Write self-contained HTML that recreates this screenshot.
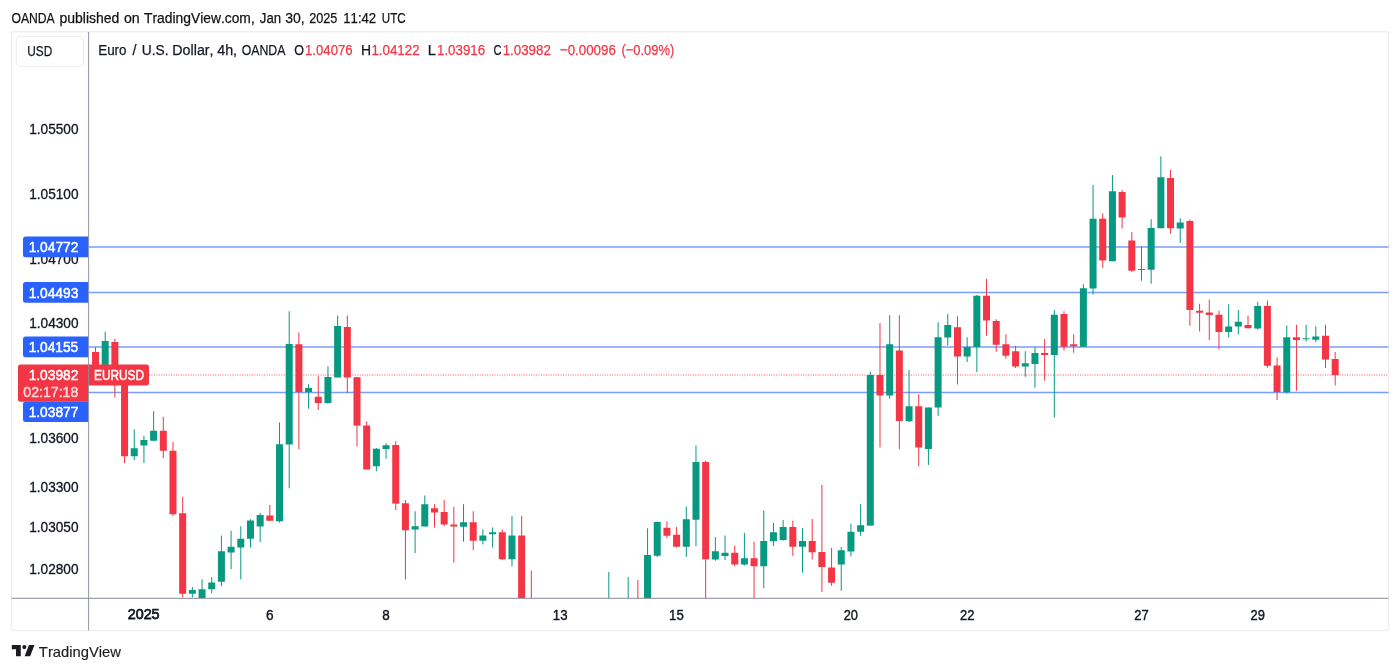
<!DOCTYPE html>
<html lang="en"><head><meta charset="utf-8"><title>EURUSD chart</title>
<style>
html,body{margin:0;padding:0;background:#fff;}
body{width:1400px;height:672px;overflow:hidden;font-family:"Liberation Sans", Arial, sans-serif;}
svg{display:block;}
text{font-family:"Liberation Sans", Arial, sans-serif;font-kerning:none;}
</style></head><body>
<svg width="1400" height="672" viewBox="0 0 1400 672">
<rect width="1400" height="672" fill="#ffffff"/>
<defs><clipPath id="pane"><rect x="89" y="32" width="1299.5" height="566"/></clipPath></defs>

<rect x="11.5" y="31.7" width="1377" height="598.8" fill="none" stroke="#eeeeee" stroke-width="1.4"/>
<text x="29.26" y="134.20" font-size="14.6" fill="#131722" stroke="#131722" stroke-width="0.33" textLength="49.27" lengthAdjust="spacingAndGlyphs">1.05500</text>
<text x="29.26" y="198.90" font-size="14.6" fill="#131722" stroke="#131722" stroke-width="0.33" textLength="49.27" lengthAdjust="spacingAndGlyphs">1.05100</text>
<text x="29.26" y="263.70" font-size="14.6" fill="#131722" stroke="#131722" stroke-width="0.33" textLength="49.27" lengthAdjust="spacingAndGlyphs">1.04700</text>
<text x="29.26" y="328.40" font-size="14.6" fill="#131722" stroke="#131722" stroke-width="0.33" textLength="49.27" lengthAdjust="spacingAndGlyphs">1.04300</text>
<text x="29.26" y="442.80" font-size="14.6" fill="#131722" stroke="#131722" stroke-width="0.33" textLength="49.27" lengthAdjust="spacingAndGlyphs">1.03600</text>
<text x="29.26" y="491.80" font-size="14.6" fill="#131722" stroke="#131722" stroke-width="0.33" textLength="49.27" lengthAdjust="spacingAndGlyphs">1.03300</text>
<text x="29.26" y="532.20" font-size="14.6" fill="#131722" stroke="#131722" stroke-width="0.33" textLength="49.27" lengthAdjust="spacingAndGlyphs">1.03050</text>
<text x="29.26" y="573.60" font-size="14.6" fill="#131722" stroke="#131722" stroke-width="0.33" textLength="49.27" lengthAdjust="spacingAndGlyphs">1.02800</text>
<line x1="88.5" x2="1388.5" y1="247.0" y2="247.0" stroke="#2962ff" stroke-width="1.5" stroke-opacity="0.62"/>
<line x1="88.5" x2="1388.5" y1="292.40000000000003" y2="292.40000000000003" stroke="#2962ff" stroke-width="1.5" stroke-opacity="0.62"/>
<line x1="88.5" x2="1388.5" y1="347.0" y2="347.0" stroke="#2962ff" stroke-width="1.5" stroke-opacity="0.62"/>
<line x1="88.5" x2="1388.5" y1="392.40000000000003" y2="392.40000000000003" stroke="#2962ff" stroke-width="1.5" stroke-opacity="0.62"/>
<line x1="149" x2="1388.5" y1="375" y2="375" stroke="#f23645" stroke-width="1" stroke-dasharray="1 1.45" stroke-opacity="0.85"/>
<g clip-path="url(#pane)">
<rect x="95.00" y="347.30" width="1.0" height="20.70" fill="#f23645"/>
<rect x="92.00" y="352.00" width="7.0" height="16.00" fill="#f23645"/>
<rect x="104.69" y="331.70" width="1.0" height="36.30" fill="#089981"/>
<rect x="101.69" y="341.00" width="7.0" height="27.00" fill="#089981"/>
<rect x="114.37" y="338.75" width="1.0" height="58.85" fill="#f23645"/>
<rect x="111.37" y="342.00" width="7.0" height="36.00" fill="#f23645"/>
<rect x="124.06" y="378.00" width="1.0" height="85.00" fill="#f23645"/>
<rect x="121.06" y="378.00" width="7.0" height="78.25" fill="#f23645"/>
<rect x="133.74" y="429.25" width="1.0" height="30.75" fill="#089981"/>
<rect x="130.74" y="448.25" width="7.0" height="8.00" fill="#089981"/>
<rect x="143.43" y="435.75" width="1.0" height="27.25" fill="#089981"/>
<rect x="140.43" y="440.00" width="7.0" height="5.50" fill="#089981"/>
<rect x="153.11" y="411.25" width="1.0" height="29.50" fill="#089981"/>
<rect x="150.11" y="430.75" width="7.0" height="10.00" fill="#089981"/>
<rect x="162.80" y="416.75" width="1.0" height="41.50" fill="#f23645"/>
<rect x="159.80" y="430.75" width="7.0" height="20.00" fill="#f23645"/>
<rect x="172.48" y="442.00" width="1.0" height="74.25" fill="#f23645"/>
<rect x="169.48" y="450.75" width="7.0" height="63.50" fill="#f23645"/>
<rect x="182.17" y="496.75" width="1.0" height="100.75" fill="#f23645"/>
<rect x="179.17" y="513.25" width="7.0" height="80.50" fill="#f23645"/>
<rect x="191.85" y="587.00" width="1.0" height="10.50" fill="#089981"/>
<rect x="188.85" y="590.00" width="7.0" height="3.75" fill="#089981"/>
<rect x="201.54" y="579.25" width="1.0" height="24.75" fill="#089981"/>
<rect x="198.54" y="589.25" width="7.0" height="14.75" fill="#089981"/>
<rect x="211.22" y="577.00" width="1.0" height="16.25" fill="#089981"/>
<rect x="208.22" y="582.50" width="7.0" height="6.75" fill="#089981"/>
<rect x="220.91" y="535.50" width="1.0" height="50.75" fill="#089981"/>
<rect x="217.91" y="551.25" width="7.0" height="30.50" fill="#089981"/>
<rect x="230.59" y="530.75" width="1.0" height="38.50" fill="#089981"/>
<rect x="227.59" y="546.75" width="7.0" height="5.75" fill="#089981"/>
<rect x="240.28" y="526.25" width="1.0" height="53.00" fill="#089981"/>
<rect x="237.28" y="538.75" width="7.0" height="8.75" fill="#089981"/>
<rect x="249.96" y="519.25" width="1.0" height="28.25" fill="#089981"/>
<rect x="246.96" y="520.50" width="7.0" height="18.25" fill="#089981"/>
<rect x="259.64" y="513.00" width="1.0" height="29.00" fill="#089981"/>
<rect x="256.64" y="515.00" width="7.0" height="11.50" fill="#089981"/>
<rect x="269.33" y="505.00" width="1.0" height="15.75" fill="#f23645"/>
<rect x="266.33" y="515.50" width="7.0" height="5.25" fill="#f23645"/>
<rect x="279.01" y="422.50" width="1.0" height="100.00" fill="#089981"/>
<rect x="276.01" y="444.25" width="7.0" height="77.00" fill="#089981"/>
<rect x="288.70" y="311.25" width="1.0" height="177.00" fill="#089981"/>
<rect x="285.70" y="344.00" width="7.0" height="100.50" fill="#089981"/>
<rect x="298.38" y="332.50" width="1.0" height="116.75" fill="#f23645"/>
<rect x="295.38" y="344.25" width="7.0" height="47.75" fill="#f23645"/>
<rect x="308.07" y="384.25" width="1.0" height="24.50" fill="#089981"/>
<rect x="305.07" y="388.00" width="7.0" height="4.00" fill="#089981"/>
<rect x="317.75" y="376.25" width="1.0" height="33.75" fill="#f23645"/>
<rect x="314.75" y="396.75" width="7.0" height="6.25" fill="#f23645"/>
<rect x="327.44" y="366.25" width="1.0" height="37.50" fill="#089981"/>
<rect x="324.44" y="377.00" width="7.0" height="26.00" fill="#089981"/>
<rect x="337.12" y="315.50" width="1.0" height="62.00" fill="#089981"/>
<rect x="334.12" y="326.00" width="7.0" height="51.50" fill="#089981"/>
<rect x="346.81" y="315.50" width="1.0" height="77.50" fill="#f23645"/>
<rect x="343.81" y="327.00" width="7.0" height="50.50" fill="#f23645"/>
<rect x="356.50" y="377.00" width="1.0" height="69.50" fill="#f23645"/>
<rect x="353.50" y="377.25" width="7.0" height="48.35" fill="#f23645"/>
<rect x="366.18" y="421.25" width="1.0" height="48.25" fill="#f23645"/>
<rect x="363.18" y="425.50" width="7.0" height="44.00" fill="#f23645"/>
<rect x="375.87" y="448.00" width="1.0" height="23.25" fill="#089981"/>
<rect x="372.87" y="448.75" width="7.0" height="17.50" fill="#089981"/>
<rect x="385.55" y="443.25" width="1.0" height="15.50" fill="#089981"/>
<rect x="382.55" y="445.25" width="7.0" height="3.75" fill="#089981"/>
<rect x="395.24" y="441.25" width="1.0" height="68.75" fill="#f23645"/>
<rect x="392.24" y="445.00" width="7.0" height="58.60" fill="#f23645"/>
<rect x="404.92" y="500.00" width="1.0" height="79.50" fill="#f23645"/>
<rect x="401.92" y="503.25" width="7.0" height="27.00" fill="#f23645"/>
<rect x="414.61" y="511.25" width="1.0" height="41.75" fill="#089981"/>
<rect x="411.61" y="526.25" width="7.0" height="3.25" fill="#089981"/>
<rect x="424.29" y="495.50" width="1.0" height="31.00" fill="#089981"/>
<rect x="421.29" y="504.25" width="7.0" height="22.25" fill="#089981"/>
<rect x="433.98" y="504.25" width="1.0" height="23.25" fill="#f23645"/>
<rect x="430.98" y="508.25" width="7.0" height="4.25" fill="#f23645"/>
<rect x="443.66" y="500.00" width="1.0" height="26.25" fill="#f23645"/>
<rect x="440.66" y="512.00" width="7.0" height="12.50" fill="#f23645"/>
<rect x="453.35" y="506.75" width="1.0" height="55.75" fill="#f23645"/>
<rect x="450.35" y="524.50" width="7.0" height="2.00" fill="#f23645"/>
<rect x="463.03" y="504.25" width="1.0" height="37.50" fill="#089981"/>
<rect x="460.03" y="522.25" width="7.0" height="4.50" fill="#089981"/>
<rect x="472.72" y="511.25" width="1.0" height="38.75" fill="#f23645"/>
<rect x="469.72" y="522.25" width="7.0" height="18.50" fill="#f23645"/>
<rect x="482.40" y="529.25" width="1.0" height="15.25" fill="#089981"/>
<rect x="479.40" y="535.50" width="7.0" height="5.25" fill="#089981"/>
<rect x="492.09" y="527.50" width="1.0" height="20.00" fill="#089981"/>
<rect x="489.09" y="532.25" width="7.0" height="2.00" fill="#089981"/>
<rect x="501.77" y="529.50" width="1.0" height="30.50" fill="#f23645"/>
<rect x="498.77" y="532.25" width="7.0" height="27.00" fill="#f23645"/>
<rect x="511.46" y="516.00" width="1.0" height="50.50" fill="#089981"/>
<rect x="508.46" y="535.50" width="7.0" height="23.75" fill="#089981"/>
<rect x="521.14" y="516.00" width="1.0" height="94.00" fill="#f23645"/>
<rect x="518.14" y="535.50" width="7.0" height="74.50" fill="#f23645"/>
<rect x="530.83" y="570.50" width="1.0" height="39.50" fill="#f23645"/>
<rect x="527.83" y="602.00" width="7.0" height="8.00" fill="#f23645"/>
<rect x="608.31" y="572.00" width="1.0" height="38.00" fill="#089981"/>
<rect x="605.31" y="602.00" width="7.0" height="8.00" fill="#089981"/>
<rect x="627.68" y="577.00" width="1.0" height="33.00" fill="#089981"/>
<rect x="624.68" y="602.00" width="7.0" height="8.00" fill="#089981"/>
<rect x="637.36" y="580.00" width="1.0" height="30.00" fill="#f23645"/>
<rect x="634.36" y="602.00" width="7.0" height="8.00" fill="#f23645"/>
<rect x="647.05" y="528.25" width="1.0" height="81.75" fill="#089981"/>
<rect x="644.05" y="555.00" width="7.0" height="55.00" fill="#089981"/>
<rect x="656.73" y="521.50" width="1.0" height="35.50" fill="#089981"/>
<rect x="653.73" y="522.00" width="7.0" height="33.75" fill="#089981"/>
<rect x="666.42" y="521.25" width="1.0" height="17.00" fill="#f23645"/>
<rect x="663.42" y="527.75" width="7.0" height="8.00" fill="#f23645"/>
<rect x="676.10" y="527.00" width="1.0" height="20.50" fill="#f23645"/>
<rect x="673.10" y="534.75" width="7.0" height="12.00" fill="#f23645"/>
<rect x="685.79" y="506.50" width="1.0" height="50.25" fill="#089981"/>
<rect x="682.79" y="519.25" width="7.0" height="27.50" fill="#089981"/>
<rect x="695.47" y="445.50" width="1.0" height="100.75" fill="#089981"/>
<rect x="692.47" y="462.00" width="7.0" height="57.75" fill="#089981"/>
<rect x="705.16" y="460.50" width="1.0" height="149.50" fill="#f23645"/>
<rect x="702.16" y="462.00" width="7.0" height="97.25" fill="#f23645"/>
<rect x="714.84" y="537.00" width="1.0" height="23.75" fill="#089981"/>
<rect x="711.84" y="551.25" width="7.0" height="8.25" fill="#089981"/>
<rect x="724.52" y="535.50" width="1.0" height="24.50" fill="#089981"/>
<rect x="721.52" y="552.75" width="7.0" height="3.25" fill="#089981"/>
<rect x="734.21" y="545.50" width="1.0" height="20.75" fill="#f23645"/>
<rect x="731.21" y="552.75" width="7.0" height="11.75" fill="#f23645"/>
<rect x="743.89" y="533.00" width="1.0" height="32.50" fill="#089981"/>
<rect x="740.89" y="558.25" width="7.0" height="6.25" fill="#089981"/>
<rect x="753.58" y="541.75" width="1.0" height="68.25" fill="#f23645"/>
<rect x="750.58" y="558.25" width="7.0" height="8.00" fill="#f23645"/>
<rect x="763.26" y="510.50" width="1.0" height="77.75" fill="#089981"/>
<rect x="760.26" y="541.00" width="7.0" height="25.25" fill="#089981"/>
<rect x="772.95" y="523.00" width="1.0" height="23.00" fill="#089981"/>
<rect x="769.95" y="532.25" width="7.0" height="9.00" fill="#089981"/>
<rect x="782.63" y="520.00" width="1.0" height="20.75" fill="#089981"/>
<rect x="779.63" y="527.00" width="7.0" height="13.00" fill="#089981"/>
<rect x="792.32" y="520.75" width="1.0" height="35.00" fill="#f23645"/>
<rect x="789.32" y="527.00" width="7.0" height="19.75" fill="#f23645"/>
<rect x="802.00" y="528.25" width="1.0" height="44.50" fill="#089981"/>
<rect x="799.00" y="541.00" width="7.0" height="5.75" fill="#089981"/>
<rect x="811.69" y="519.00" width="1.0" height="40.50" fill="#f23645"/>
<rect x="808.69" y="541.00" width="7.0" height="11.25" fill="#f23645"/>
<rect x="821.38" y="485.00" width="1.0" height="107.00" fill="#f23645"/>
<rect x="818.38" y="552.00" width="7.0" height="15.00" fill="#f23645"/>
<rect x="831.06" y="548.00" width="1.0" height="37.75" fill="#f23645"/>
<rect x="828.06" y="567.50" width="7.0" height="15.25" fill="#f23645"/>
<rect x="840.75" y="547.00" width="1.0" height="43.75" fill="#089981"/>
<rect x="837.75" y="550.25" width="7.0" height="14.25" fill="#089981"/>
<rect x="850.43" y="523.75" width="1.0" height="32.50" fill="#089981"/>
<rect x="847.43" y="531.75" width="7.0" height="19.75" fill="#089981"/>
<rect x="860.12" y="504.25" width="1.0" height="31.50" fill="#089981"/>
<rect x="857.12" y="525.25" width="7.0" height="6.50" fill="#089981"/>
<rect x="869.80" y="371.50" width="1.0" height="154.10" fill="#089981"/>
<rect x="866.80" y="375.00" width="7.0" height="150.60" fill="#089981"/>
<rect x="879.49" y="323.00" width="1.0" height="124.50" fill="#f23645"/>
<rect x="876.49" y="375.00" width="7.0" height="20.50" fill="#f23645"/>
<rect x="889.17" y="315.25" width="1.0" height="83.50" fill="#089981"/>
<rect x="886.17" y="344.25" width="7.0" height="51.25" fill="#089981"/>
<rect x="898.86" y="315.25" width="1.0" height="134.00" fill="#f23645"/>
<rect x="895.86" y="350.50" width="7.0" height="70.50" fill="#f23645"/>
<rect x="908.54" y="370.00" width="1.0" height="52.00" fill="#089981"/>
<rect x="905.54" y="406.25" width="7.0" height="15.00" fill="#089981"/>
<rect x="918.23" y="394.25" width="1.0" height="72.25" fill="#f23645"/>
<rect x="915.23" y="406.25" width="7.0" height="41.25" fill="#f23645"/>
<rect x="927.91" y="407.50" width="1.0" height="57.50" fill="#089981"/>
<rect x="924.91" y="407.50" width="7.0" height="41.50" fill="#089981"/>
<rect x="937.60" y="322.25" width="1.0" height="93.50" fill="#089981"/>
<rect x="934.60" y="337.25" width="7.0" height="70.25" fill="#089981"/>
<rect x="947.28" y="314.00" width="1.0" height="31.50" fill="#089981"/>
<rect x="944.28" y="325.00" width="7.0" height="12.50" fill="#089981"/>
<rect x="956.97" y="316.25" width="1.0" height="68.25" fill="#f23645"/>
<rect x="953.97" y="327.25" width="7.0" height="29.25" fill="#f23645"/>
<rect x="966.65" y="337.25" width="1.0" height="24.75" fill="#089981"/>
<rect x="963.65" y="347.00" width="7.0" height="9.50" fill="#089981"/>
<rect x="976.34" y="295.00" width="1.0" height="77.00" fill="#089981"/>
<rect x="973.34" y="295.75" width="7.0" height="51.25" fill="#089981"/>
<rect x="986.02" y="278.75" width="1.0" height="57.00" fill="#f23645"/>
<rect x="983.02" y="295.75" width="7.0" height="24.75" fill="#f23645"/>
<rect x="995.71" y="319.25" width="1.0" height="32.50" fill="#f23645"/>
<rect x="992.71" y="321.00" width="7.0" height="23.75" fill="#f23645"/>
<rect x="1005.39" y="334.25" width="1.0" height="24.50" fill="#f23645"/>
<rect x="1002.39" y="344.25" width="7.0" height="11.50" fill="#f23645"/>
<rect x="1015.08" y="346.00" width="1.0" height="22.00" fill="#f23645"/>
<rect x="1012.08" y="351.25" width="7.0" height="15.25" fill="#f23645"/>
<rect x="1024.76" y="351.25" width="1.0" height="25.50" fill="#089981"/>
<rect x="1021.76" y="363.25" width="7.0" height="3.25" fill="#089981"/>
<rect x="1034.45" y="347.00" width="1.0" height="40.75" fill="#089981"/>
<rect x="1031.45" y="353.00" width="7.0" height="11.00" fill="#089981"/>
<rect x="1044.13" y="339.00" width="1.0" height="41.75" fill="#f23645"/>
<rect x="1041.13" y="353.00" width="7.0" height="2.00" fill="#f23645"/>
<rect x="1053.82" y="310.00" width="1.0" height="107.50" fill="#089981"/>
<rect x="1050.82" y="314.75" width="7.0" height="40.25" fill="#089981"/>
<rect x="1063.50" y="311.25" width="1.0" height="39.25" fill="#f23645"/>
<rect x="1060.50" y="314.00" width="7.0" height="32.75" fill="#f23645"/>
<rect x="1073.18" y="334.25" width="1.0" height="18.50" fill="#f23645"/>
<rect x="1070.18" y="344.25" width="7.0" height="2.00" fill="#f23645"/>
<rect x="1082.87" y="284.25" width="1.0" height="62.50" fill="#089981"/>
<rect x="1079.87" y="288.25" width="7.0" height="58.50" fill="#089981"/>
<rect x="1092.56" y="185.00" width="1.0" height="109.50" fill="#089981"/>
<rect x="1089.56" y="218.75" width="7.0" height="69.75" fill="#089981"/>
<rect x="1102.24" y="213.25" width="1.0" height="54.75" fill="#f23645"/>
<rect x="1099.24" y="218.75" width="7.0" height="41.75" fill="#f23645"/>
<rect x="1111.93" y="175.00" width="1.0" height="86.25" fill="#089981"/>
<rect x="1108.93" y="191.25" width="7.0" height="70.00" fill="#089981"/>
<rect x="1121.61" y="190.00" width="1.0" height="38.50" fill="#f23645"/>
<rect x="1118.61" y="192.00" width="7.0" height="25.50" fill="#f23645"/>
<rect x="1131.30" y="232.00" width="1.0" height="40.00" fill="#f23645"/>
<rect x="1128.30" y="240.50" width="7.0" height="30.25" fill="#f23645"/>
<rect x="1140.98" y="246.25" width="1.0" height="34.50" fill="#089981"/>
<rect x="1137.98" y="269.00" width="7.0" height="1.00" fill="#089981"/>
<rect x="1150.66" y="219.25" width="1.0" height="64.50" fill="#089981"/>
<rect x="1147.66" y="228.00" width="7.0" height="41.75" fill="#089981"/>
<rect x="1160.35" y="156.25" width="1.0" height="72.00" fill="#089981"/>
<rect x="1157.35" y="177.25" width="7.0" height="51.00" fill="#089981"/>
<rect x="1170.04" y="170.00" width="1.0" height="63.75" fill="#f23645"/>
<rect x="1167.04" y="178.00" width="7.0" height="50.25" fill="#f23645"/>
<rect x="1179.72" y="218.25" width="1.0" height="24.75" fill="#089981"/>
<rect x="1176.72" y="222.50" width="7.0" height="6.00" fill="#089981"/>
<rect x="1189.40" y="219.50" width="1.0" height="106.25" fill="#f23645"/>
<rect x="1186.40" y="221.00" width="7.0" height="89.00" fill="#f23645"/>
<rect x="1199.09" y="303.75" width="1.0" height="27.75" fill="#f23645"/>
<rect x="1196.09" y="310.75" width="7.0" height="2.00" fill="#f23645"/>
<rect x="1208.78" y="299.50" width="1.0" height="40.50" fill="#f23645"/>
<rect x="1205.78" y="312.50" width="7.0" height="2.50" fill="#f23645"/>
<rect x="1218.46" y="310.75" width="1.0" height="38.75" fill="#f23645"/>
<rect x="1215.46" y="314.75" width="7.0" height="17.25" fill="#f23645"/>
<rect x="1228.14" y="304.25" width="1.0" height="33.25" fill="#089981"/>
<rect x="1225.14" y="326.50" width="7.0" height="5.50" fill="#089981"/>
<rect x="1237.83" y="310.00" width="1.0" height="24.50" fill="#089981"/>
<rect x="1234.83" y="321.75" width="7.0" height="4.75" fill="#089981"/>
<rect x="1247.52" y="315.50" width="1.0" height="12.75" fill="#f23645"/>
<rect x="1244.52" y="325.00" width="7.0" height="3.25" fill="#f23645"/>
<rect x="1257.20" y="302.00" width="1.0" height="27.75" fill="#089981"/>
<rect x="1254.20" y="306.00" width="7.0" height="22.50" fill="#089981"/>
<rect x="1266.88" y="300.50" width="1.0" height="67.25" fill="#f23645"/>
<rect x="1263.88" y="306.00" width="7.0" height="59.75" fill="#f23645"/>
<rect x="1276.57" y="357.50" width="1.0" height="42.50" fill="#f23645"/>
<rect x="1273.57" y="365.50" width="7.0" height="26.50" fill="#f23645"/>
<rect x="1286.26" y="325.50" width="1.0" height="68.00" fill="#089981"/>
<rect x="1283.26" y="337.25" width="7.0" height="55.00" fill="#089981"/>
<rect x="1295.94" y="324.75" width="1.0" height="66.00" fill="#f23645"/>
<rect x="1292.94" y="337.25" width="7.0" height="2.75" fill="#f23645"/>
<rect x="1305.62" y="324.75" width="1.0" height="16.75" fill="#089981"/>
<rect x="1302.62" y="338.25" width="7.0" height="1.00" fill="#089981"/>
<rect x="1315.31" y="326.25" width="1.0" height="16.00" fill="#089981"/>
<rect x="1312.31" y="336.50" width="7.0" height="3.25" fill="#089981"/>
<rect x="1325.00" y="324.75" width="1.0" height="43.25" fill="#f23645"/>
<rect x="1322.00" y="335.75" width="7.0" height="23.75" fill="#f23645"/>
<rect x="1334.68" y="352.00" width="1.0" height="33.50" fill="#f23645"/>
<rect x="1331.68" y="359.00" width="7.0" height="16.00" fill="#f23645"/>
</g>
<path d="M25.5,236.5 H88.3 V257.3 H25.5 Q23,257.3 23,254.8 V239.0 Q23,236.5 25.5,236.5 Z" fill="#2962ff"/>
<text x="28.65" y="252.10" font-size="14.6" fill="#fff" stroke="#fff" stroke-width="0.5" textLength="49.74" lengthAdjust="spacingAndGlyphs">1.04772</text>
<path d="M25.5,281.90000000000003 H88.3 V302.70000000000005 H25.5 Q23,302.70000000000005 23,300.20000000000005 V284.40000000000003 Q23,281.90000000000003 25.5,281.90000000000003 Z" fill="#2962ff"/>
<text x="28.65" y="297.50" font-size="14.6" fill="#fff" stroke="#fff" stroke-width="0.5" textLength="49.65" lengthAdjust="spacingAndGlyphs">1.04493</text>
<path d="M25.5,336.5 H88.3 V357.3 H25.5 Q23,357.3 23,354.8 V339.0 Q23,336.5 25.5,336.5 Z" fill="#2962ff"/>
<text x="28.65" y="352.10" font-size="14.6" fill="#fff" stroke="#fff" stroke-width="0.5" textLength="49.62" lengthAdjust="spacingAndGlyphs">1.04155</text>
<path d="M25.5,401.5 H88.3 V422.0 H25.5 Q23,422.0 23,419.5 V404.0 Q23,401.5 25.5,401.5 Z" fill="#2962ff"/>
<text x="28.65" y="416.80" font-size="14.6" fill="#fff" stroke="#fff" stroke-width="0.5" textLength="49.74" lengthAdjust="spacingAndGlyphs">1.03877</text>
<path d="M20.5,364.5 H88.3 V401.7 H20.5 Q18,401.7 18,399.2 V367.0 Q18,364.5 20.5,364.5 Z" fill="#f23645"/>
<text x="28.65" y="380.20" font-size="14.6" fill="#fff" stroke="#fff" stroke-width="0.5" textLength="49.74" lengthAdjust="spacingAndGlyphs">1.03982</text>
<text x="23.35" y="396.80" font-size="14.6" fill="#fff" stroke="#fff" stroke-width="0.5" opacity="0.8" textLength="54.97" lengthAdjust="spacingAndGlyphs">02:17:18</text>
<path d="M88.3,364.5 H146.5 Q149.0,364.5 149.0,367.0 V383.0 Q149.0,385.5 146.5,385.5 H88.3 Z" fill="#f23645"/>
<text x="94.03" y="380.20" font-size="14.6" fill="#fff" stroke="#fff" stroke-width="0.5" textLength="49.94" lengthAdjust="spacingAndGlyphs">EURUSD</text>
<line x1="88.55" x2="88.55" y1="32" y2="630.5" stroke="#868993" stroke-opacity="0.8" stroke-width="1.15"/>
<line x1="11.5" x2="1388.5" y1="598.35" y2="598.35" stroke="#868993" stroke-opacity="0.8" stroke-width="1.15"/>
<rect x="16.2" y="36.5" width="67.3" height="30" rx="4.5" fill="#fff" stroke="#eeeeee" stroke-width="1.2"/>
<text x="27.29" y="56.00" font-size="14.8" fill="#131722" stroke="#131722" stroke-width="0.25" textLength="24.98" lengthAdjust="spacingAndGlyphs">USD</text>
<text y="22.75" font-size="15.3" stroke-width="0.25"><tspan x="11.42" fill="#111114" stroke="#111114" textLength="43.35" lengthAdjust="spacingAndGlyphs">OANDA</tspan> <tspan x="59.40" fill="#111114" stroke="#111114" textLength="60.01" lengthAdjust="spacingAndGlyphs">published</tspan> <tspan x="123.90" fill="#111114" stroke="#111114" textLength="15.77" lengthAdjust="spacingAndGlyphs">on</tspan> <tspan x="143.99" fill="#111114" stroke="#111114" textLength="110.75" lengthAdjust="spacingAndGlyphs">TradingView.com,</tspan> <tspan x="259.79" fill="#111114" stroke="#111114" textLength="21.32" lengthAdjust="spacingAndGlyphs">Jan</tspan> <tspan x="285.27" fill="#111114" stroke="#111114" textLength="19.49" lengthAdjust="spacingAndGlyphs">30,</tspan> <tspan x="309.16" fill="#111114" stroke="#111114" textLength="28.17" lengthAdjust="spacingAndGlyphs">2025</tspan> <tspan x="343.30" fill="#111114" stroke="#111114" textLength="32.86" lengthAdjust="spacingAndGlyphs">11:42</tspan> <tspan x="381.81" fill="#111114" stroke="#111114" textLength="23.84" lengthAdjust="spacingAndGlyphs">UTC</tspan></text>
<text y="54.95" font-size="15.1" stroke-width="0.25"><tspan x="98.20" fill="#131722" stroke="#131722" textLength="28.37" lengthAdjust="spacingAndGlyphs">Euro</tspan> <tspan x="132.50" fill="#131722" stroke="#131722" textLength="4.00" lengthAdjust="spacingAndGlyphs">/</tspan> <tspan x="141.74" fill="#131722" stroke="#131722" textLength="26.77" lengthAdjust="spacingAndGlyphs">U.S.</tspan> <tspan x="172.33" fill="#131722" stroke="#131722" textLength="41.20" lengthAdjust="spacingAndGlyphs">Dollar,</tspan> <tspan x="217.17" fill="#131722" stroke="#131722" textLength="19.92" lengthAdjust="spacingAndGlyphs">4h,</tspan> <tspan x="241.67" fill="#131722" stroke="#131722" textLength="43.76" lengthAdjust="spacingAndGlyphs">OANDA</tspan> <tspan x="294.16" fill="#131722" stroke="#131722" textLength="9.74" lengthAdjust="spacingAndGlyphs">O</tspan> <tspan x="305.00" fill="#f23645" stroke="#f23645" textLength="47.63" lengthAdjust="spacingAndGlyphs">1.04076</tspan> <tspan x="361.10" fill="#131722" stroke="#131722" textLength="10.08" lengthAdjust="spacingAndGlyphs">H</tspan> <tspan x="371.43" fill="#f23645" stroke="#f23645" textLength="48.19" lengthAdjust="spacingAndGlyphs">1.04122</tspan> <tspan x="427.80" fill="#131722" stroke="#131722" textLength="8.14" lengthAdjust="spacingAndGlyphs">L</tspan> <tspan x="436.99" fill="#f23645" stroke="#f23645" textLength="48.10" lengthAdjust="spacingAndGlyphs">1.03916</tspan> <tspan x="493.38" fill="#131722" stroke="#131722" textLength="8.04" lengthAdjust="spacingAndGlyphs">C</tspan> <tspan x="502.68" fill="#f23645" stroke="#f23645" textLength="48.19" lengthAdjust="spacingAndGlyphs">1.03982</tspan> <tspan x="559.89" fill="#f23645" stroke="#f23645" textLength="55.99" lengthAdjust="spacingAndGlyphs">−0.00096</tspan> <tspan x="621.40" fill="#f23645" stroke="#f23645" textLength="52.91" lengthAdjust="spacingAndGlyphs">(−0.09%)</tspan></text>
<text x="265.99" y="619.70" font-size="15.0" fill="#131722" stroke="#131722" stroke-width="0.42" textLength="7.59" lengthAdjust="spacingAndGlyphs">6</text>
<text x="382.32" y="619.70" font-size="15.0" fill="#131722" stroke="#131722" stroke-width="0.42" textLength="7.47" lengthAdjust="spacingAndGlyphs">8</text>
<text x="552.82" y="619.70" font-size="15.0" fill="#131722" stroke="#131722" stroke-width="0.42" textLength="14.69" lengthAdjust="spacingAndGlyphs">13</text>
<text x="669.05" y="619.70" font-size="15.0" fill="#131722" stroke="#131722" stroke-width="0.42" textLength="14.66" lengthAdjust="spacingAndGlyphs">15</text>
<text x="843.74" y="619.70" font-size="15.0" fill="#131722" stroke="#131722" stroke-width="0.42" textLength="14.24" lengthAdjust="spacingAndGlyphs">20</text>
<text x="959.95" y="619.70" font-size="15.0" fill="#131722" stroke="#131722" stroke-width="0.42" textLength="14.40" lengthAdjust="spacingAndGlyphs">22</text>
<text x="1134.28" y="619.70" font-size="15.0" fill="#131722" stroke="#131722" stroke-width="0.42" textLength="14.40" lengthAdjust="spacingAndGlyphs">27</text>
<text x="1250.50" y="619.70" font-size="15.0" fill="#131722" stroke="#131722" stroke-width="0.42" textLength="14.36" lengthAdjust="spacingAndGlyphs">29</text>
<text x="127.73" y="619.45" font-size="15.0" fill="#131722" stroke="#131722" stroke-width="0.75" textLength="31.87" lengthAdjust="spacingAndGlyphs">2025</text>
<g fill="#1c1c1e">
<path d="M11.8,645 H20.8 V656.2 H16 V649.2 H11.8 Z"/>
<circle cx="24.3" cy="647.1" r="2.05"/>
<path d="M29,645 H34.5 L30.1,656.2 H24.6 Z"/>
</g>
<text x="38.87" y="656.80" font-size="14.6" fill="#1c1c1e" stroke="#1c1c1e" stroke-width="0.15" textLength="82.10" lengthAdjust="spacingAndGlyphs">TradingView</text>
</svg></body></html>
